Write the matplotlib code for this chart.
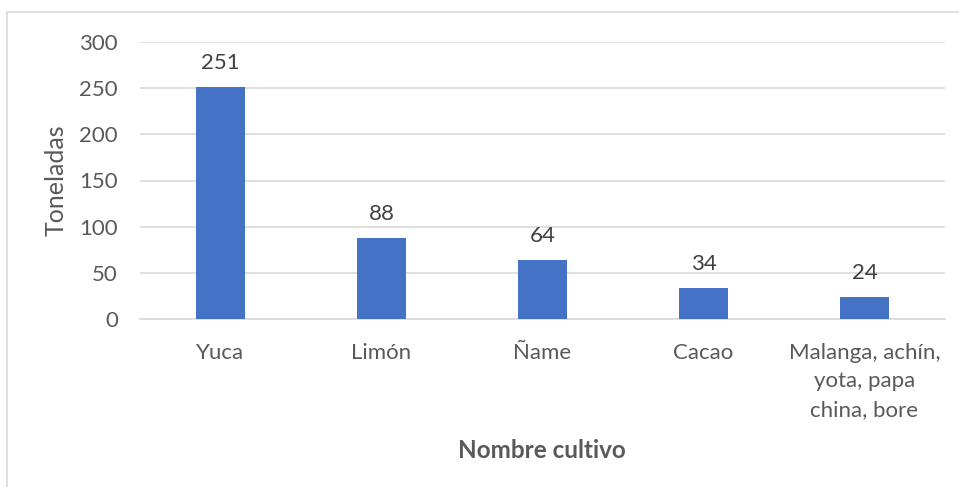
import matplotlib.pyplot as plt
from matplotlib.patches import Rectangle

cultivos = ["Yuca", "Limón", "Ñame", "Cacao", "Malanga, achín,\nyota, papa\nchina, bore"]
toneladas = [251, 88, 64, 34, 24]
yticks = [0, 50, 100, 150, 200, 250, 300]

plt.rcParams["font.family"] = ["Lato", "DejaVu Sans"]
gray_text = "#595959"
grid_col = "#d9d9d9"

fig = plt.figure(figsize=(9.59, 4.87), dpi=100)
ax = fig.add_axes([140 / 959, 1 - 319 / 487, 805 / 959, 277 / 487])

# outer chart border
fig.patches.append(Rectangle((7 / 959, -0.05), 1.2, 1 - 12 / 487 + 0.05,
                             transform=fig.transFigure, fill=False,
                             edgecolor=grid_col, linewidth=1.2))

x = range(len(cultivos))
bars = ax.bar(x, toneladas, width=0.31, color="#4472c4", zorder=3)
for b, v in zip(bars, toneladas):
    ax.annotate(str(v), (b.get_x() + b.get_width() / 2, v),
                xytext=(0, 10), textcoords="offset points",
                ha="center", va="bottom", fontsize=16, color="#404040")

ax.set_xlim(-0.5, len(cultivos) - 0.5)
ax.set_ylim(0, 300)
ax.set_yticks(yticks)
ax.set_xticks(list(x))
ax.set_xticklabels(cultivos, linespacing=1.55)
ax.tick_params(axis="y", length=0, pad=16, labelsize=16, labelcolor=gray_text)
ax.tick_params(axis="x", length=0, pad=17, labelsize=16, labelcolor=gray_text)
ax.grid(axis="y", color=grid_col, linewidth=1.2, zorder=0)
for s in ["top", "right", "left"]:
    ax.spines[s].set_visible(False)
ax.spines["bottom"].set_color(grid_col)
ax.spines["bottom"].set_linewidth(1.2)

ax.set_ylabel("Toneladas", fontsize=18, color=gray_text, labelpad=8)
fig.text(542 / 959, 1 - 450 / 487, "Nombre cultivo", ha="center", va="center",
         fontsize=17.5, fontweight="bold", color=gray_text)

fig.savefig("out.png", dpi=100)
